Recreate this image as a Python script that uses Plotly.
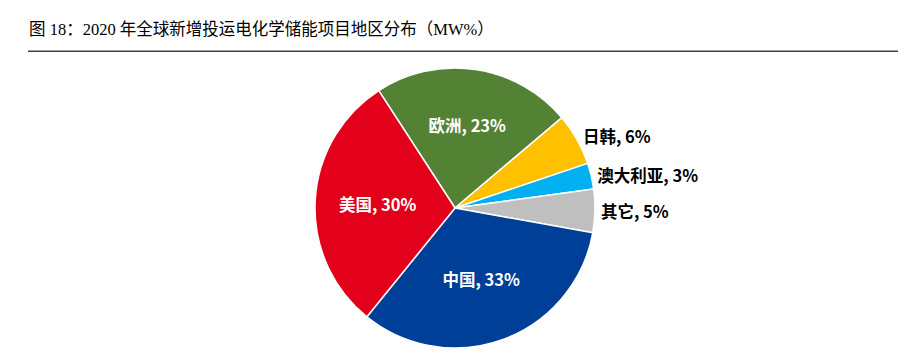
import plotly.graph_objects as go

regions = ["欧洲", "日韩", "澳大利亚", "其它", "中国", "美国"]
shares = [23, 6, 3, 5, 33, 30]
colors = ["#548235", "#FFC000", "#00B0F0", "#BFBFBF", "#003F97", "#E2001A"]
text_pos = ["inside", "outside", "outside", "outside", "inside", "inside"]
title_text = "图 18：2020 年全球新增投运电化学储能项目地区分布（MW%）"

W, H = 898, 353
cx, r = 455, 142

fig = go.Figure(go.Pie(
    labels=regions,
    values=shares,
    sort=False,
    direction="clockwise",
    rotation=-33,
    marker=dict(colors=colors, line=dict(color="white", width=1.5)),
    texttemplate="%{label}, %{value}%",
    textposition=text_pos,
    insidetextorientation="horizontal",
    insidetextfont=dict(color="white", size=16.5, family="Noto Sans CJK SC", weight="bold"),
    outsidetextfont=dict(color="black", size=16.5, family="Noto Sans CJK SC", weight="bold"),
    hoverinfo="label+percent",
    domain=dict(x=[(cx - r - 3) / W, (cx + r + 3) / W], y=[0, 2 * r / H]),
    showlegend=False,
))

fig.add_annotation(
    text=title_text, xref="paper", yref="paper",
    x=27 / W, y=1 - 30 / H, xanchor="left", yanchor="middle",
    showarrow=False,
    font=dict(family="Liberation Serif, Noto Sans CJK SC", size=16.5, color="black"),
)
fig.add_shape(
    type="line", xref="paper", yref="paper",
    x0=28 / W, x1=1, y0=1 - 52 / H, y1=1 - 52 / H,
    line=dict(color="#404040", width=1.5),
)

fig.update_layout(
    width=W, height=H,
    margin=dict(l=0, r=0, t=0, b=0),
    paper_bgcolor="white", plot_bgcolor="white",
)

fig.write_html("out.html")
